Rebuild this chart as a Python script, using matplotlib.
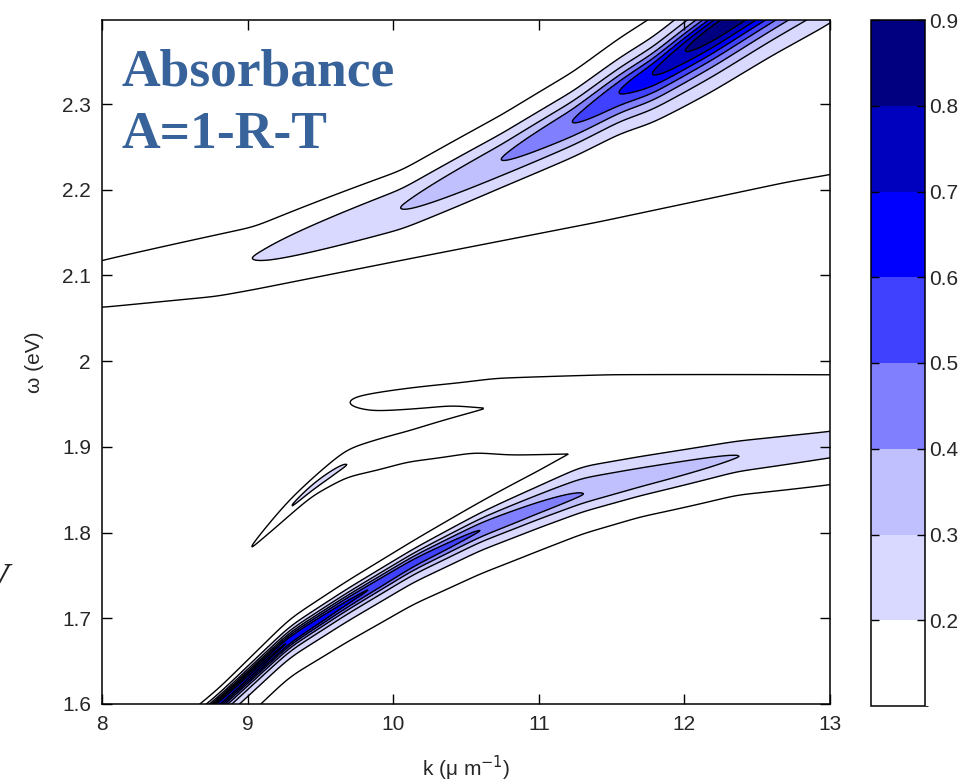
import numpy as np
import matplotlib
matplotlib.use("Agg")
import matplotlib.pyplot as plt
from matplotlib.colors import ListedColormap, BoundaryNorm

# ---- ridge parameters of the absorbance map (k in 1/um, energies in eV) ----
# upper polariton branch
up_k = [7.8, 8.0, 9.05, 10.06, 10.75, 11.24, 11.56, 11.78, 12.0, 12.2, 12.6, 13.0, 13.2]
up_center = [2.085, 2.092, 2.12, 2.179, 2.236, 2.28, 2.315, 2.335, 2.362, 2.385, 2.43, 2.475, 2.5]
up_amp = [0.14, 0.15, 0.2, 0.3, 0.4, 0.5, 0.6, 0.7, 0.8, 0.87, 0.88, 0.88, 0.88]
up_w_above = [0.036, 0.036, 0.037, 0.031, 0.030, 0.029, 0.028, 0.027, 0.026, 0.026, 0.025, 0.025, 0.025]
up_w_below = [0.035, 0.035, 0.035, 0.035, 0.033, 0.034, 0.035, 0.036, 0.0375, 0.038, 0.040, 0.044, 0.044]

# weak shoulder on the low-energy side of the upper branch
sh_k = [7.8, 8.0, 8.79, 9.05, 10.06, 11.42, 12.7, 13.2]
sh_onset = [2.090, 2.091, 2.104, 2.112, 2.146, 2.191, 2.237, 2.252]
sh_amp = [0.15, 0.15, 0.15, 0.15, 0.15, 0.15, 0.15, 0.15]
sh_width = 0.04

# lower polariton branch
lp_k = [7.8, 8.3, 8.8, 9.29, 9.68, 10.14, 10.6, 11.0, 11.3, 11.7, 12.36, 13.0, 13.2]
lp_center = [1.45, 1.53, 1.6, 1.675, 1.718, 1.765, 1.803, 1.828, 1.845, 1.862, 1.889, 1.905, 1.91]
lp_amp = [0.75, 0.75, 0.75, 0.7, 0.62, 0.56, 0.5, 0.44, 0.4, 0.36, 0.3, 0.27, 0.27]
lp_w_above = [0.007, 0.007, 0.007, 0.01, 0.011, 0.012, 0.0165, 0.024, 0.032, 0.030, 0.025, 0.022, 0.022]
lp_w_below = [0.006, 0.006, 0.0063, 0.0062, 0.0075, 0.0088, 0.0104, 0.0115, 0.012, 0.0126, 0.016, 0.0196, 0.0196]

# flat exciton-like band near 1.96 eV
ex_k = [9.3, 9.6, 9.69, 9.85, 10.4, 10.7, 11.5, 13.0, 13.2]
ex_center = [1.95, 1.951, 1.952, 1.952, 1.961, 1.962, 1.965, 1.967, 1.967]
ex_amp = [0.07, 0.095, 0.1, 0.105, 0.115, 0.12, 0.13, 0.14, 0.14]
ex_width = [0.045, 0.045, 0.045, 0.045, 0.033, 0.04, 0.035, 0.027, 0.027]

# weak middle branch between the two polaritons
mid_k = [8.8, 9.05, 9.28, 9.45, 9.68, 10.09, 10.55, 10.8, 11.3, 12.0, 13.0, 13.2]
mid_center = [1.74, 1.788, 1.828, 1.854, 1.881, 1.9, 1.917, 1.922, 1.93, 1.938, 1.945, 1.945]
mid_amp = [0.06, 0.1, 0.2, 0.23, 0.2, 0.15, 0.135, 0.14, 0.135, 0.14, 0.15, 0.15]
mid_width = [0.008, 0.008, 0.009, 0.009, 0.016, 0.025, 0.04, 0.05, 0.064, 0.045, 0.03, 0.03]

# contour levels and fill colours
levels = [0.1, 0.2, 0.3, 0.4, 0.5, 0.6, 0.7, 0.8, 0.9]
fill_colors = ["#ffffff", "#d9d9ff", "#c0c0ff", "#8080ff", "#4040ff",
               "#0000ff", "#0000bf", "#000080"]
cbar_ticks = [0.2, 0.3, 0.4, 0.5, 0.6, 0.7, 0.8, 0.9]
x_ticks = [8, 9, 10, 11, 12, 13]
y_ticks = [1.6, 1.7, 1.8, 1.9, 2.0, 2.1, 2.2, 2.3]
k_range = (8.0, 13.0)
w_range = (1.6, 2.398)

# ---- build the absorbance field ----
kg = np.linspace(7.8, 13.2, 900)
wg = np.linspace(1.58, 2.42, 700)
K, W = np.meshgrid(kg, wg)
dk = kg[1] - kg[0]


def smooth(y, sigma=0.06):
    n = int(4 * sigma / dk)
    x = np.arange(-n, n + 1) * dk
    g = np.exp(-0.5 * (x / sigma) ** 2)
    g /= g.sum()
    yp = np.pad(y, n, mode="edge")
    return np.convolve(yp, g, mode="valid")


def track(xp, fp):
    return smooth(np.interp(kg, xp, fp))[None, :]


def lorentz(d, w, p=1.0):
    return (1 + (d / w) ** 2) ** (-p)


def ridge(ks, cs, amps, wa, wb, pa=1.0, pb=1.0):
    c = track(ks, cs)
    d = W - c
    prof = np.where(d >= 0, lorentz(d, track(ks, wa), pa),
                    lorentz(d, track(ks, wb), pb))
    return track(ks, amps) * prof


def shoulder(ks, onset, amps, width, top_center):
    # flat plateau from the onset up to the branch centre
    m = track(ks, onset)
    d_low = W - m
    d_top = W - top_center
    prof = np.where(d_low < 0, lorentz(d_low, width), 1.0)
    prof = np.where(d_top > 0, lorentz(d_top, 0.01), prof)
    return track(ks, amps) * prof


up_track = track(up_k, up_center)
A = np.maximum.reduce([
    ridge(up_k, up_center, up_amp, up_w_above, up_w_below),
    shoulder(sh_k, sh_onset, sh_amp, sh_width, up_track),
    ridge(lp_k, lp_center, lp_amp, lp_w_above, lp_w_below, 1.0, 0.5),
    ridge(ex_k, ex_center, ex_amp, ex_width, ex_width),
    ridge(mid_k, mid_center, mid_amp, mid_width, mid_width),
])
A = np.clip(A, 0, 0.895)

# ---- figure ----
plt.rcParams["font.family"] = ["Liberation Sans", "DejaVu Sans"]
fig = plt.figure(figsize=(9.74, 7.84), dpi=100)
ax = fig.add_axes([102 / 974, 80 / 784, 728 / 974, 684 / 784])

cmap = ListedColormap(fill_colors)
norm = BoundaryNorm(levels, cmap.N)
cs = ax.contourf(K, W, A, levels=levels, cmap=cmap, norm=norm)
ax.contour(K, W, A, levels=levels, colors="k", linewidths=1.0)

ax.set_xlim(*k_range)
ax.set_ylim(*w_range)
ax.set_xticks(x_ticks)
ax.set_yticks(y_ticks)
ax.set_xticklabels([str(t) for t in x_ticks])
ax.set_yticklabels(["2" if t == 2.0 else f"{t:g}" for t in y_ticks])
ax.tick_params(direction="in", length=7, width=1, top=True, right=True,
               labelsize=15, labelcolor="#262626", pad=8)
for s in ax.spines.values():
    s.set_linewidth(1.1)

ax.set_xlabel("k (\u03bc m$^{-1}$)", fontsize=15, color="#262626", labelpad=14)
ax.set_ylabel("\u03c9 (eV)", fontsize=15, color="#262626", labelpad=13)

title_kw = dict(family="Liberation Serif", fontweight="bold", fontsize=38.5,
                color="#37629a", ha="left", va="baseline")
fig.text(122 / 974, 1 - 85 / 784, "Absorbance", **title_kw)
fig.text(122 / 974, 1 - 148 / 784, "A=1-R-T", **title_kw)

# partial italic letter at the left border
fig.text(-0.003, 1 - 590 / 784, "V", family="Liberation Serif", style="italic",
         fontsize=28, color="#222222", ha="center", va="baseline")

# ---- colour bar ----
cax = fig.add_axes([871 / 974, 78 / 784, 54 / 974, 686 / 784])
cb = fig.colorbar(cs, cax=cax, ticks=cbar_ticks)
cb.ax.set_yticklabels([f"{t:.1f}" for t in cbar_ticks])
cb.outline.set_linewidth(1.1)
cax.tick_params(direction="in", length=6, width=1, left=True, right=True,
                labelsize=15, labelcolor="#262626", pad=3)

fig.savefig("out.png", dpi=100, facecolor="white")
